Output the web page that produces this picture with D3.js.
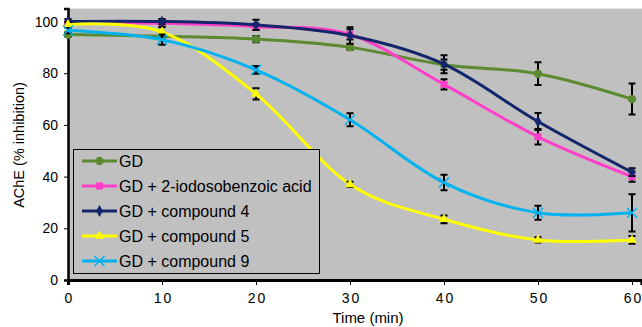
<!DOCTYPE html>
<html>
<head>
<meta charset="utf-8">
<script src="https://cdn.jsdelivr.net/npm/d3@7"></script>
<style>
  body { margin: 0; background: #fff; }
  svg text { font-family: "Liberation Sans", Arial, sans-serif; fill: #000; }
</style>
</head>
<body>
<svg id="chart" width="642" height="327"></svg>
<script>
// time points (min)
const times = [0, 10, 20, 30, 40, 50, 60];

// series names, values and error bars
const seriesNames = ["GD", "GD + 2-iodosobenzoic acid", "GD + compound 4", "GD + compound 5", "GD + compound 9"];
const gdValues     = [95, 94.3, 93.2, 90, 83.3, 79.8, 70];
const iodoValues   = [99.5, 99.3, 98, 95, 75.7, 55.4, 40];
const comp4Values  = [100, 100, 98.7, 94.6, 83.5, 61.3, 41.7];
const comp5Values  = [98.8, 96, 72, 37, 23.5, 15.5, 15.5];
const comp9Values  = [96.5, 93, 81.3, 62, 37.7, 26, 26];
const gdErr    = [1, 1, 1.2, 1, 2, 4.4, 6];
const iodoErr  = [1, 1.5, 1.2, 2, 2, 3, 2];
const comp4Err = [1, 1, 2, 3.2, 3.5, 3.3, 1.5];
const comp5Err = [1, 2, 2.2, 1, 1.5, 1, 1.5];
const comp9Err = [1, 2, 1.5, 2.5, 3, 2.7, 7.2];

const xTicks = [0, 10, 20, 30, 40, 50, 60];
const yTicks = [0, 20, 40, 60, 80, 100];

const colors = ["#5b8a31", "#ff3fc8", "#14256b", "#ffff00", "#00b2f0"];
const symbols = ["circle", "square", "diamond", "triangle", "cross"];
const allValues = [gdValues, iodoValues, comp4Values, comp5Values, comp9Values];
const allErrors = [gdErr, iodoErr, comp4Err, comp5Err, comp9Err];

const svg = d3.select("#chart");
const x = d3.scaleLinear().domain([0, 61]).range([68, 641.4]);
const y = d3.scaleLinear().domain([0, 105]).range([280, 8.6]);

// plot background
svg.append("rect")
  .attr("x", x(0)).attr("y", y(105))
  .attr("width", 642 - x(0)).attr("height", y(0) - y(105))
  .attr("fill", "#c0c0c0");

// axes
const yAxis = svg.append("g")
  .attr("transform", `translate(${x(0)},0)`)
  .call(d3.axisLeft(y).tickValues(yTicks).tickSize(4).tickPadding(6));
yAxis.select(".domain").attr("stroke-width", 2.5);
yAxis.selectAll("text").style("font-size", "14px");

const xAxis = svg.append("g")
  .attr("transform", `translate(0,${y(0)})`)
  .call(d3.axisBottom(x).tickValues(xTicks).tickSize(5).tickPadding(8));
xAxis.select(".domain").attr("stroke-width", 3);
xAxis.selectAll("text").style("font-size", "14px").style("letter-spacing", "2px")
  .attr("dx", 1);

svg.append("text")
  .attr("x", 368).attr("y", 323)
  .attr("text-anchor", "middle")
  .style("font-size", "15px")
  .text("Time (min)");

svg.append("text")
  .attr("transform", "translate(24,145) rotate(-90)")
  .attr("text-anchor", "middle")
  .style("font-size", "14.5px")
  .text("AChE (% inhibition)");

const line = d3.line()
  .x((d, i) => x(times[i]))
  .y(d => y(d))
  .curve(d3.curveCatmullRom.alpha(0));

function symbolPath(name) {
  if (name === "circle") return d3.symbol(d3.symbolCircle, 55)();
  if (name === "square") return d3.symbol(d3.symbolSquare, 50)();
  if (name === "diamond") return d3.symbol(d3.symbolDiamond, 40)();
  if (name === "triangle") return d3.symbol(d3.symbolTriangle, 40)();
  return null;
}

function drawMarker(g, name, color, cx, cy) {
  if (name === "cross") {
    g.append("path")
      .attr("d", `M${cx - 5},${cy - 5}L${cx + 5},${cy + 5}M${cx - 5},${cy + 5}L${cx + 5},${cy - 5}`)
      .attr("stroke", color).attr("stroke-width", 1.5).attr("fill", "none");
  } else {
    g.append("path")
      .attr("d", symbolPath(name))
      .attr("transform", `translate(${cx},${cy})`)
      .attr("fill", color);
  }
}

allValues.forEach((vals, s) => {
  const g = svg.append("g");
  g.append("path")
    .datum(vals)
    .attr("d", line)
    .attr("fill", "none")
    .attr("stroke", colors[s])
    .attr("stroke-width", 3);

  // error bars
  vals.forEach((v, i) => {
    const e = allErrors[s][i];
    const cx = x(times[i]);
    g.append("path")
      .attr("d", `M${cx},${y(v + e)}V${y(v - e)}M${cx - 3.5},${y(v + e)}H${cx + 3.5}M${cx - 3.5},${y(v - e)}H${cx + 3.5}`)
      .attr("stroke", "#000").attr("stroke-width", 2).attr("fill", "none");
  });

  vals.forEach((v, i) => drawMarker(g, symbols[s], colors[s], x(times[i]), y(v)));
});

// legend
const legend = svg.append("g");
legend.append("rect")
  .attr("x", 73.5).attr("y", 149.5)
  .attr("width", 246).attr("height", 124)
  .attr("fill", "#c0c0c0")
  .attr("stroke", "#000").attr("stroke-width", 1);

seriesNames.forEach((name, s) => {
  const cy = 161 + s * 25;
  legend.append("line")
    .attr("x1", 82).attr("x2", 117)
    .attr("y1", cy).attr("y2", cy)
    .attr("stroke", colors[s]).attr("stroke-width", 3);
  drawMarker(legend, symbols[s], colors[s], 99.5, cy);
  legend.append("text")
    .attr("x", 119).attr("y", cy + 5.5)
    .style("font-size", "16px")
    .text(name);
});
</script>
</body>
</html>
